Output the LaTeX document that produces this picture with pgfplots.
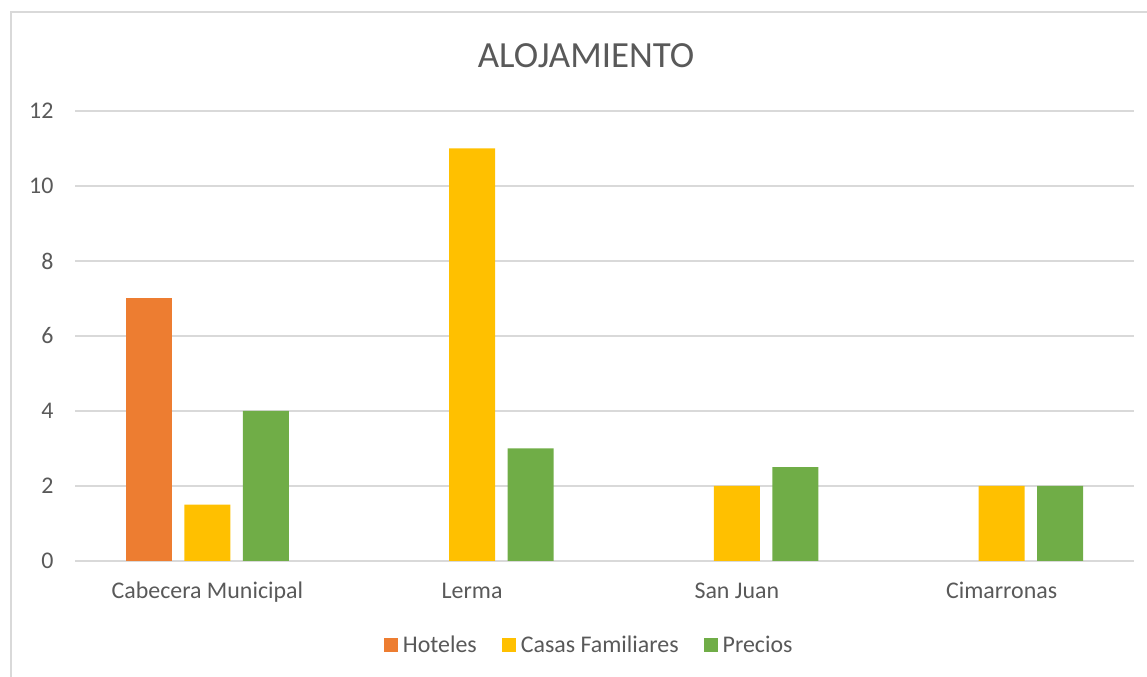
\documentclass[border=0pt]{standalone}
\usepackage{pgfplots}
\pgfplotsset{compat=1.18}
\usepackage{fontspec}
\setmainfont{Carlito}
\definecolor{cOr}{HTML}{ED7D31}
\definecolor{cYe}{HTML}{FFC000}
\definecolor{cGr}{HTML}{70AD47}
\definecolor{cTx}{HTML}{595959}
\definecolor{cGd}{HTML}{D9D9D9}
\begin{document}
\begin{tikzpicture}[x=1bp,y=1bp]
\useasboundingbox (0,0) rectangle (1147,677);
\draw[cGd, line width=1.3bp] (11,-20) -- (11,665) -- (1180,665);
\node[text=cTx, font=\fontsize{37}{42}\selectfont] at (586,621) {ALOJAMIENTO};
\begin{axis}[
  at={(75bp,116bp)}, anchor=south west,
  scale only axis, width=1059bp, height=450bp,
  xmin=-0.5, xmax=3.5, ymin=0, ymax=12,
  ytick={0,2,4,6,8,10,12},
  xtick={0,1,2,3},
  xticklabels={Cabecera Municipal, Lerma, San Juan, Cimarronas},
  ymajorgrids, grid style={cGd, line width=1.3bp},
  axis line style={draw=none},
  major tick length=0pt,
  tick label style={text=cTx, font=\fontsize{24}{28}\selectfont},
  /pgf/number format/assume math mode=true,
  yticklabel style={xshift=-18bp},
  xticklabel style={anchor=base, yshift=-38bp},
  ybar=12.5bp, bar width=46bp,
  legend style={at={(0.487,-0.187)}, anchor=center, draw=none,
    legend columns=3, font=\fontsize{24}{28}\selectfont, text=cTx,
    /tikz/every even column/.append style={column sep=20bp},
    inner sep=0pt, nodes={inner xsep=5bp, inner ysep=0pt}},
  legend image code/.code={\fill[#1] (0bp,-7bp) rectangle (14bp,7bp);},
]
\addplot[draw=none, fill=cOr] coordinates {(0,7)};
\addplot[draw=none, fill=cYe] coordinates {(0,1.5) (1,11) (2,2) (3,2)};
\addplot[draw=none, fill=cGr] coordinates {(0,4) (1,3) (2,2.5) (3,2)};
\legend{Hoteles, Casas Familiares, Precios}
\end{axis}
\end{tikzpicture}
\end{document}
